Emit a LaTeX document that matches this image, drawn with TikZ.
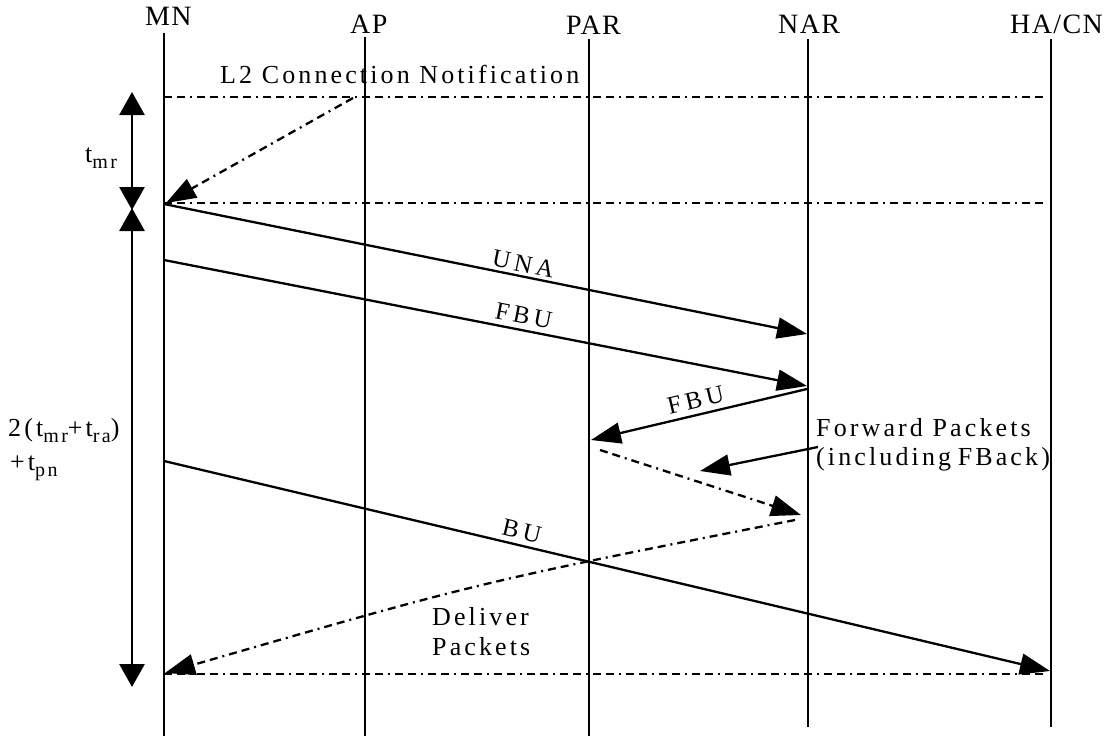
\documentclass[tikz,border=0pt]{standalone}
\usepackage{fontspec}
\setmainfont{Liberation Serif}
\newfontfamily\hdrfont{Liberation Serif}[LetterSpace=5]
\newfontfamily\lblfont{Liberation Serif}[LetterSpace=12]
\newfontfamily\msgfont{Liberation Serif}[LetterSpace=17]
\usetikzlibrary{arrows.meta}

% "t" with a lowered, smaller index
\newcommand\tsub[1]{t\raisebox{-6pt}{\fontsize{20}{20}\selectfont #1}}

\begin{document}
\begin{tikzpicture}[x=1pt,y=-1pt,
  hdr/.style={font=\hdrfont\fontsize{28}{32}\selectfont, inner sep=0pt, anchor=base west},
  lbl/.style={font=\lblfont\fontsize{26}{30}\selectfont, inner sep=0pt, anchor=base west},
  mlbl/.style={font=\msgfont\fontsize{25}{30}\selectfont, inner sep=5pt, sloped, above},
  life/.style={line width=2.8pt},
  dotline/.style={line width=2.3pt, dash pattern=on 8pt off 5pt on 8pt off 5pt on 2pt off 5pt},
  tip/.style={-{Triangle[length=30pt,width=21pt]}},
  msg/.style={line width=2.3pt, tip},
  span/.style={line width=2.8pt, {Triangle[length=23pt,width=25pt]}-{Triangle[length=23pt,width=25pt]}}
]
\useasboundingbox (0,0) rectangle (1111,736);

% entity names
\node[hdr] (MN)  at (145,25) {MN};
\node[hdr] (AP)  at (350,33) {AP};
\node[hdr] (PAR) at (566,34) {PAR};
\node[hdr] (NAR) at (778,33) {NAR};
\node[hdr] (HA)  at (1010,33) {HA/CN};

% lifeline ends
\coordinate (mnT)  at (164,33);  \coordinate (mnB)  at (164,736);
\coordinate (apT)  at (365,37);  \coordinate (apB)  at (365,736);
\coordinate (parT) at (589,39);  \coordinate (parB) at (589,736);
\coordinate (narT) at (808,39);  \coordinate (narB) at (808,727);
\coordinate (haT)  at (1051,39); \coordinate (haB)  at (1051,727);

\draw[life] (mnT) -- (mnB);
\draw[life] (apT) -- (apB);
\draw[life] (parT) -- (parB);
\draw[life] (narT) -- (narB);
\draw[life] (haT) -- (haB);

% event points on the lifelines
\coordinate (mn1) at (164,97);  \coordinate (ha1) at (1046,97);
\coordinate (mn2) at (164,203); \coordinate (ha2) at (1046,203);
\coordinate (mn3) at (164,674); \coordinate (ha3) at (1046,674);
\coordinate (apL2)  at (353,98);
\coordinate (mnL2)  at (166,203);
\coordinate (mnUNA) at (164,204);
\coordinate (narUNA) at (807,334);
\coordinate (mnFBU) at (164,260);
\coordinate (narFBU) at (807,386);
\coordinate (narFBU2) at (807,389);
\coordinate (parFBU2) at (591,440);
\coordinate (fwdS) at (818,447);
\coordinate (fwdE) at (700,471);
\coordinate (parPk) at (600,450);
\coordinate (narPk) at (801,515);
\coordinate (narDl) at (795,520);
\coordinate (mnDl)  at (165,673);
\coordinate (mnBU)  at (164,461);
\coordinate (haBU)  at (1050,671);

% horizontal time marks
\draw[dotline] (mn1) -- (ha1);
\draw[dotline] (mn2) -- (ha2);
\draw[dotline] (mn3) -- (ha3);

% intervals
\coordinate (s1a) at (132,92);  \coordinate (s1b) at (132,210);
\coordinate (s2a) at (132,208); \coordinate (s2b) at (132,687);
\draw[span] (s1a) -- (s1b);
\draw[span] (s2a) -- (s2b);
\node[lbl] (tmr) at (85,162) {\tsub{mr}};
\node[lbl] (tsum1) at (8,436) {2(\tsub{mr}+\tsub{ra})};
\node[lbl] (tsum2) at (10,470) {+\tsub{pn}};

% messages
\node[lbl] (l2) at (220,83) {L2 Connection Notification};
\draw[dotline, tip] (apL2) -- (mnL2);

\draw[msg] (mnUNA) -- (narUNA) node[mlbl, pos=0.555, inner sep=3pt] (una) {UNA};
\draw[msg] (mnFBU) -- (narFBU) node[mlbl, pos=0.555] (fbu1) {FBU};
\draw[line width=2.3pt, {Triangle[length=30pt,width=21pt]}-] (parFBU2) -- (narFBU2)
  node[mlbl, pos=0.5] (fbu2) {FBU};

\node[lbl] (fwd1) at (816,436) {Forward Packets};
\node[lbl] (fwd2) at (816,465) {(including\hspace{-3pt} FBack)};
\draw[msg] (fwdS) -- (fwdE);

\draw[dotline, tip] (parPk) -- (narPk);
\draw[dotline, tip] (narDl) .. controls (480,582) .. (mnDl);
\node[lbl] (dl1) at (432,625) {Deliver};
\node[lbl] (dl2) at (432,655) {Packets};

\draw[msg] (mnBU) -- (haBU) node[mlbl, pos=0.40] (bu) {BU};
\end{tikzpicture}
\end{document}
